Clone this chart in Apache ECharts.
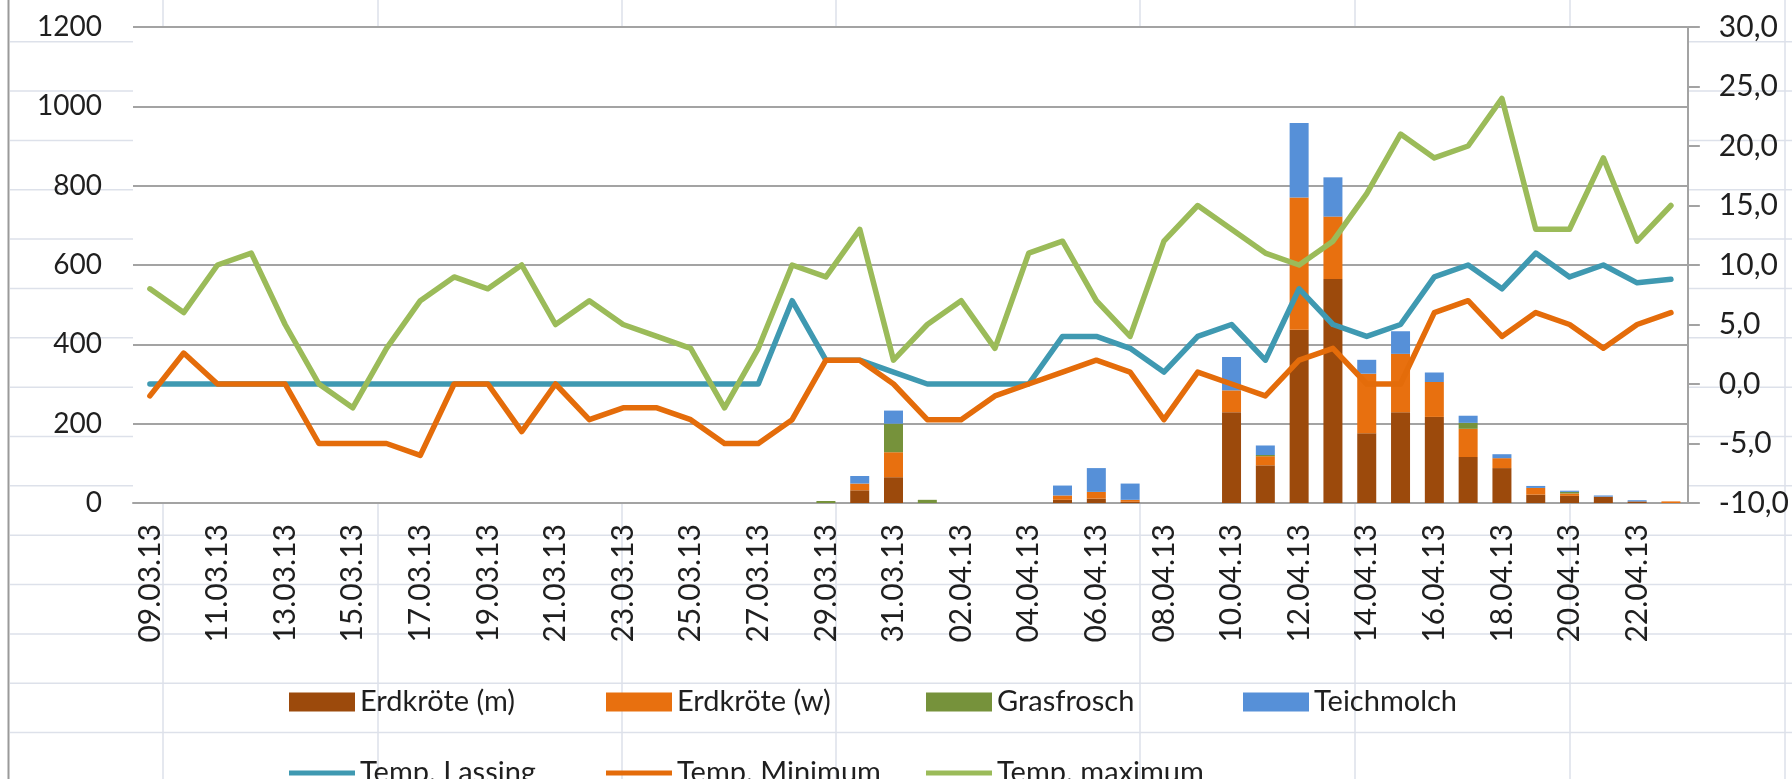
<!DOCTYPE html>
<html>
<head>
<meta charset="utf-8">
<title>Amphibienwanderung 2013</title>
<script src="https://cdn.jsdelivr.net/npm/echarts@6/dist/echarts.min.js"></script>
<style>
    html, body { margin: 0; padding: 0; background: #fff; }
    #migration_con { width: 1792px; height: 779px; }
</style>
</head>
<body>
<div id="migration_con"></div>
<script>
// Tage 09.03.13 - 23.04.13
const dates = [
    '09.03.13','10.03.13','11.03.13','12.03.13','13.03.13','14.03.13','15.03.13','16.03.13','17.03.13','18.03.13',
    '19.03.13','20.03.13','21.03.13','22.03.13','23.03.13','24.03.13','25.03.13','26.03.13','27.03.13','28.03.13',
    '29.03.13','30.03.13','31.03.13','01.04.13','02.04.13','03.04.13','04.04.13','05.04.13','06.04.13','07.04.13',
    '08.04.13','09.04.13','10.04.13','11.04.13','12.04.13','13.04.13','14.04.13','15.04.13','16.04.13','17.04.13',
    '18.04.13','19.04.13','20.04.13','21.04.13','22.04.13','23.04.13'
];

// Anzahl Tiere (linke Achse)
const erdkroeteM = [
    0,0,0,0,0,0,0,0,0,0,
    0,0,0,0,0,0,0,0,0,0,
    0,32,65,0,0,0,0,8,11,3,
    0,0,229,95,437,565,176,229,217,116,
    88,21,18,16,4,0
];
const erdkroeteW = [
    0,0,0,0,0,0,0,0,0,0,
    0,0,0,0,0,0,0,0,0,0,
    0,17,63,0,0,0,0,11,17,5,
    0,0,55,23,333,157,150,147,88,71,
    25,17,6,0,0,4
];
const grasfrosch = [
    0,0,0,0,0,0,0,0,0,0,
    0,0,0,0,0,0,0,0,0,0,
    5,0,72,8,0,0,0,0,0,0,
    0,0,0,3,0,0,0,0,0,15,
    0,0,4,0,0,0
];
const teichmolch = [
    0,0,0,0,0,0,0,0,0,0,
    0,0,0,0,0,0,0,0,0,0,
    0,19,33,0,0,0,0,25,60,41,
    0,0,84,24,188,99,35,57,24,18,
    10,5,3,3,3,0
];

// Temperaturen (rechte Achse)
const tempLassing = [
    0,0,0,0,0,0,0,0,0,0,
    0,0,0,0,0,0,0,0,0,7,
    2,2,1,0,0,0,0,4,4,3,
    1,4,5,2,8,5,4,5,9,10,
    8,11,9,10,8.5,8.8
];
const tempMinimum = [
    -1,2.6,0,0,0,-5,-5,-5,-6,0,
    0,-4,0,-3,-2,-2,-3,-5,-5,-3,
    2,2,0,-3,-3,-1,0,1,2,1,
    -3,1,0,-1,2,3,0,0,6,7,
    4,6,5,3,5,6
];
const tempMaximum = [
    8,6,10,11,5,0,-2,3,7,9,
    8,10,5,7,5,4,3,-2,3,10,
    9,13,2,5,7,3,11,12,7,4,
    12,15,13,11,10,12,16,21,19,20,
    24,13,13,19,12,15
];

const barNames = ['Erdkröte (m)', 'Erdkröte (w)', 'Grasfrosch', 'Teichmolch'];
const barColors = ['#9c4a0c', '#e8700f', '#76923b', '#5690d8'];
const lineNames = ['Temp. Lassing', 'Temp. Minimum', 'Temp. maximum'];
const lineColors = ['#3f99b1', '#e46c0a', '#9bbb59'];

// Tabellenraster im Hintergrund (Excel-Zellen)
const sheetColX = [163, 378, 622, 836, 1140, 1355, 1570, 1785];
const sheetRowY = [];
for (let k = 0; k < 15; k++) {
    sheetRowY.push(41.7 + 49.35 * k);
}

function initChart() {
    let fontFamily = 'Lato, "Noto Sans", sans-serif';
    let textColor = '#1f1f1f';
    let gridColor = '#a3a3a3';

    let graphics = [];
    sheetRowY.forEach(function (y) {
        graphics.push({
            type: 'line', silent: true, z: -10,
            shape: {x1: 10, y1: y, x2: 1792, y2: y},
            style: {stroke: '#dde1ea', lineWidth: 1.5}
        });
    });
    sheetColX.forEach(function (x) {
        graphics.push({
            type: 'line', silent: true, z: -10,
            shape: {x1: x, y1: 0, x2: x, y2: 779},
            style: {stroke: '#dde1ea', lineWidth: 1.5}
        });
    });
    graphics.push({
        type: 'line', silent: true, z: -9,
        shape: {x1: 8.5, y1: 0, x2: 8.5, y2: 779},
        style: {stroke: '#9a9a9a', lineWidth: 2}
    });

    let legendLeft = [289, 606, 926, 1243];
    let legends = [];
    barNames.forEach(function (name, i) {
        legends.push({
            data: [name], left: legendLeft[i], top: 686, padding: 0,
            icon: 'rect', itemWidth: 66, itemHeight: 19, itemGap: 6,
            textStyle: {fontFamily: fontFamily, fontSize: 29, lineHeight: 32, color: textColor}
        });
    });
    lineNames.forEach(function (name, i) {
        legends.push({
            data: [name], left: legendLeft[i], top: 757, padding: 0,
            icon: 'rect', itemWidth: 66, itemHeight: 5, itemGap: 6,
            textStyle: {fontFamily: fontFamily, fontSize: 29, lineHeight: 32, color: textColor}
        });
    });

    let series = [];
    let barData = [erdkroeteM, erdkroeteW, grasfrosch, teichmolch];
    barNames.forEach(function (name, i) {
        series.push({
            name: name,
            type: 'bar',
            stack: 'tiere',
            yAxisIndex: 0,
            barWidth: 19,
            itemStyle: {color: barColors[i]},
            data: barData[i]
        });
    });
    let lineData = [tempLassing, tempMinimum, tempMaximum];
    lineNames.forEach(function (name, i) {
        series.push({
            name: name,
            type: 'line',
            yAxisIndex: 1,
            symbol: 'none',
            z: 3,
            itemStyle: {color: lineColors[i]},
            lineStyle: {color: lineColors[i], width: 5.5, join: 'round', cap: 'round'},
            data: lineData[i]
        });
    });

    let option = {
        animation: false,
        backgroundColor: 'transparent',
        color: barColors.concat(lineColors),
        graphic: graphics,
        legend: legends,
        grid: {
            left: 133,
            right: 100,
            top: 27,
            bottom: 276,
            show: true,
            backgroundColor: '#ffffff',
            borderWidth: 0
        },
        xAxis: [
            {
                type: 'category',
                data: dates,
                boundaryGap: true,
                axisLine: {show: true, lineStyle: {color: gridColor, width: 2}},
                axisTick: {show: false},
                axisLabel: {
                    interval: 1,
                    rotate: 90,
                    margin: 21,
                    fontFamily: fontFamily,
                    fontSize: 30,
                    color: textColor
                }
            }
        ],
        yAxis: [
            {
                type: 'value',
                min: 0,
                max: 1200,
                interval: 200,
                axisLine: {show: false},
                axisTick: {show: false},
                splitLine: {show: true, lineStyle: {color: gridColor, width: 2}},
                axisLabel: {
                    margin: 31,
                    fontFamily: fontFamily,
                    fontSize: 28,
                    color: textColor,
                    formatter: function (v) {
                        return String(v);
                    }
                }
            },
            {
                type: 'value',
                position: 'right',
                min: -10,
                max: 30,
                interval: 5,
                axisLine: {show: true, lineStyle: {color: gridColor, width: 2}},
                axisTick: {show: true, length: 12, lineStyle: {color: gridColor, width: 2}},
                splitLine: {show: false},
                axisLabel: {
                    margin: 31,
                    fontFamily: fontFamily,
                    fontSize: 30,
                    color: textColor,
                    formatter: function (v) {
                        return v.toFixed(1).replace('.', ',');
                    }
                }
            }
        ],
        series: series
    };

    const migrationChart = echarts.init(document.getElementById('migration_con'));
    migrationChart.setOption(option);

    window.addEventListener('resize', function () {
        migrationChart.resize();
    });
}

initChart();
</script>
</body>
</html>
